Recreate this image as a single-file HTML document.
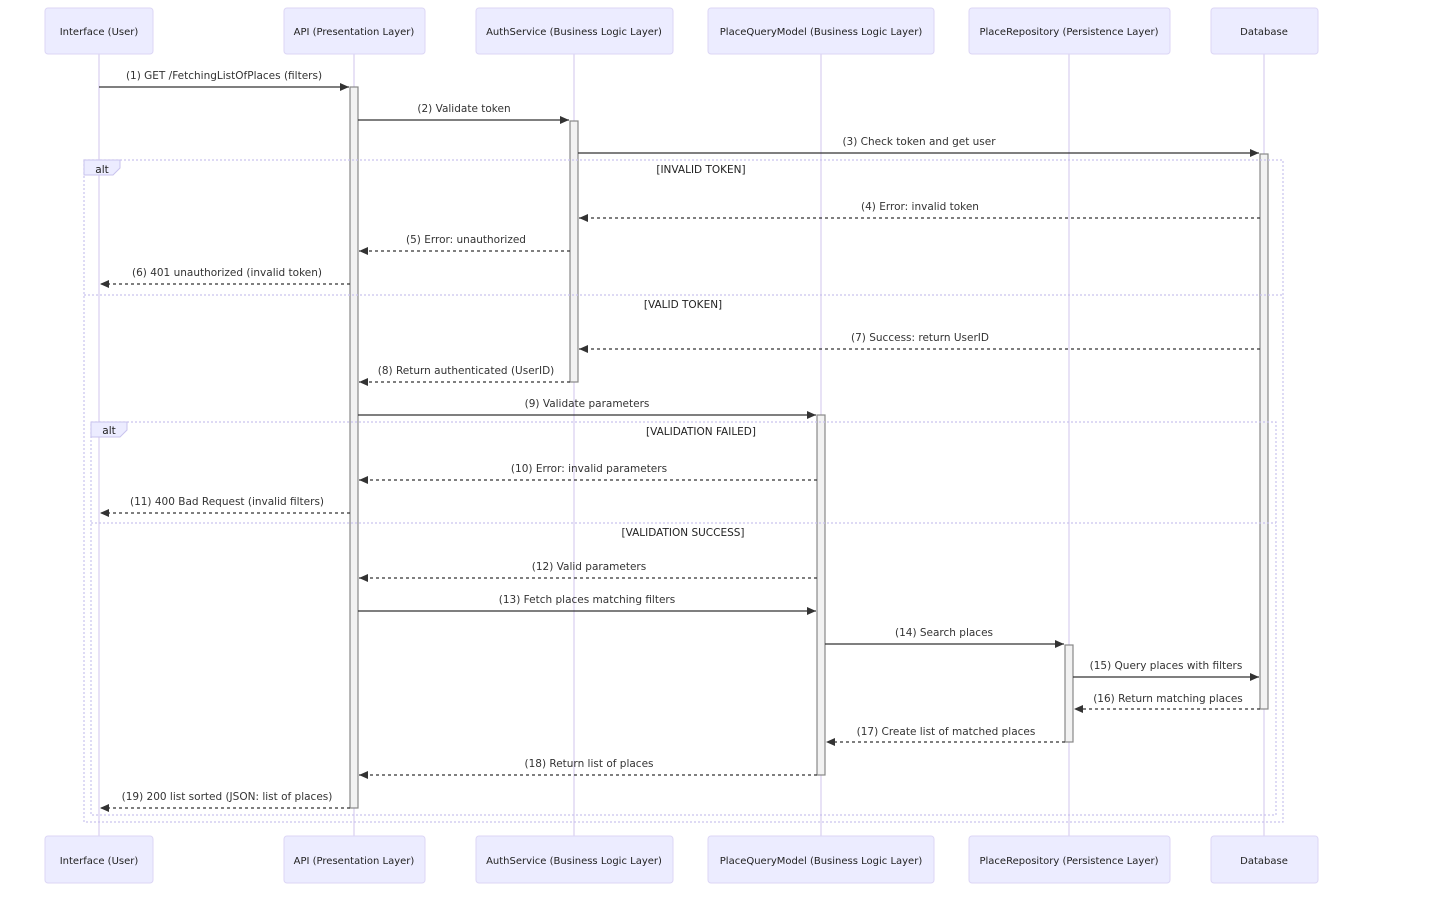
<!DOCTYPE html>
<html><head><meta charset="utf-8"><style>
html,body{margin:0;padding:0;background:#fff;}
svg{display:block;font-family:"DejaVu Sans","Liberation Sans",sans-serif;}
.actor{fill:#ECECFF;stroke:#DCD6F5;stroke-width:1;}
.at{font-size:10px;fill:#222;text-anchor:middle;}
.life{stroke:#DCD2F2;stroke-width:1.3;}
.act{fill:#F2F2F2;stroke:#888;stroke-width:1.2;}
.m{stroke:#333;stroke-width:1.2;fill:none;}
.d{stroke:#333;stroke-width:1.2;fill:none;stroke-dasharray:3,3;}
.ml{font-size:10.5px;fill:#333;text-anchor:middle;}
.alt{fill:none;stroke:#C9C3EE;stroke-width:1.2;stroke-dasharray:2,2;}
.cond{font-size:10.5px;fill:#222;text-anchor:middle;}
</style></head><body>
<svg width="1452" height="913" viewBox="0 0 1452 913" xmlns="http://www.w3.org/2000/svg">
<defs><marker id="ah" markerWidth="10" markerHeight="8" refX="9" refY="4" orient="auto" markerUnits="userSpaceOnUse"><path d="M0,0 L9,4 L0,8 z" fill="#333"/></marker></defs>
<g class="life">
<line x1="99" y1="54" x2="99" y2="836"/><line x1="354" y1="54" x2="354" y2="836"/>
<line x1="574" y1="54" x2="574" y2="836"/><line x1="821" y1="54" x2="821" y2="836"/>
<line x1="1069" y1="54" x2="1069" y2="836"/><line x1="1264" y1="54" x2="1264" y2="836"/>
</g>
<g>
<rect class="actor" x="45" y="8" width="108" height="46" rx="3"/><text class="at" x="99" y="35">Interface (User)</text>
<rect class="actor" x="284" y="8" width="141" height="46" rx="3"/><text class="at" x="354" y="35">API (Presentation Layer)</text>
<rect class="actor" x="476" y="8" width="197" height="46" rx="3"/><text class="at" x="574" y="35">AuthService (Business Logic Layer)</text>
<rect class="actor" x="708" y="8" width="226" height="46" rx="3"/><text class="at" x="821" y="35">PlaceQueryModel (Business Logic Layer)</text>
<rect class="actor" x="969" y="8" width="201" height="46" rx="3"/><text class="at" x="1069" y="35">PlaceRepository (Persistence Layer)</text>
<rect class="actor" x="1211" y="8" width="107" height="46" rx="3"/><text class="at" x="1264" y="35">Database</text>
</g>
<g>
<rect class="actor" x="45" y="836" width="108" height="47" rx="3"/><text class="at" x="99" y="864">Interface (User)</text>
<rect class="actor" x="284" y="836" width="141" height="47" rx="3"/><text class="at" x="354" y="864">API (Presentation Layer)</text>
<rect class="actor" x="476" y="836" width="197" height="47" rx="3"/><text class="at" x="574" y="864">AuthService (Business Logic Layer)</text>
<rect class="actor" x="708" y="836" width="226" height="47" rx="3"/><text class="at" x="821" y="864">PlaceQueryModel (Business Logic Layer)</text>
<rect class="actor" x="969" y="836" width="201" height="47" rx="3"/><text class="at" x="1069" y="864">PlaceRepository (Persistence Layer)</text>
<rect class="actor" x="1211" y="836" width="107" height="47" rx="3"/><text class="at" x="1264" y="864">Database</text>
</g>
<rect class="act" x="350" y="87" width="8" height="721"/>
<rect class="act" x="570" y="121" width="8" height="261"/>
<rect class="act" x="1260" y="154" width="8" height="555"/>
<rect class="act" x="817" y="415" width="8" height="360"/>
<rect class="act" x="1065" y="645" width="8" height="97"/>
<rect class="alt" x="84" y="160" width="1199" height="662"/>
<line class="alt" x1="84" y1="295" x2="1283" y2="295"/>
<path d="M84,160 H120 V168 L113,175 H84 Z" fill="#ECECFF" stroke="#C9C3EE"/>
<text x="102" y="173" font-size="10.5" fill="#222" text-anchor="middle">alt</text>
<text class="cond" x="701" y="173">[INVALID TOKEN]</text>
<text class="cond" x="683" y="308">[VALID TOKEN]</text>
<rect class="alt" x="91" y="422" width="1185" height="393"/>
<line class="alt" x1="91" y1="523" x2="1276" y2="523"/>
<path d="M91,422 H127 V430 L120,437 H91 Z" fill="#ECECFF" stroke="#C9C3EE"/>
<text x="109" y="434" font-size="10.5" fill="#222" text-anchor="middle">alt</text>
<text class="cond" x="701" y="435">[VALIDATION FAILED]</text>
<text class="cond" x="683" y="536">[VALIDATION SUCCESS]</text>
<line class="m" x1="99" y1="87" x2="349" y2="87" marker-end="url(#ah)"/><text class="ml" x="224" y="79">(1) GET /FetchingListOfPlaces (filters)</text>
<line class="m" x1="358" y1="120" x2="569" y2="120" marker-end="url(#ah)"/><text class="ml" x="464" y="112">(2) Validate token</text>
<line class="m" x1="578" y1="153" x2="1259" y2="153" marker-end="url(#ah)"/><text class="ml" x="919" y="145">(3) Check token and get user</text>
<line class="d" x1="1260" y1="218" x2="579" y2="218" marker-end="url(#ah)"/><text class="ml" x="920" y="210">(4) Error: invalid token</text>
<line class="d" x1="570" y1="251" x2="359" y2="251" marker-end="url(#ah)"/><text class="ml" x="466" y="243">(5) Error: unauthorized</text>
<line class="d" x1="350" y1="284" x2="100" y2="284" marker-end="url(#ah)"/><text class="ml" x="227" y="276">(6) 401 unauthorized (invalid token)</text>
<line class="d" x1="1260" y1="349" x2="579" y2="349" marker-end="url(#ah)"/><text class="ml" x="920" y="341">(7) Success: return UserID</text>
<line class="d" x1="570" y1="382" x2="359" y2="382" marker-end="url(#ah)"/><text class="ml" x="466" y="374">(8) Return authenticated (UserID)</text>
<line class="m" x1="358" y1="415" x2="816" y2="415" marker-end="url(#ah)"/><text class="ml" x="587" y="407">(9) Validate parameters</text>
<line class="d" x1="817" y1="480" x2="359" y2="480" marker-end="url(#ah)"/><text class="ml" x="589" y="472">(10) Error: invalid parameters</text>
<line class="d" x1="350" y1="513" x2="100" y2="513" marker-end="url(#ah)"/><text class="ml" x="227" y="505">(11) 400 Bad Request (invalid filters)</text>
<line class="d" x1="817" y1="578" x2="359" y2="578" marker-end="url(#ah)"/><text class="ml" x="589" y="570">(12) Valid parameters</text>
<line class="m" x1="358" y1="611" x2="816" y2="611" marker-end="url(#ah)"/><text class="ml" x="587" y="603">(13) Fetch places matching filters</text>
<line class="m" x1="825" y1="644" x2="1064" y2="644" marker-end="url(#ah)"/><text class="ml" x="944" y="636">(14) Search places</text>
<line class="m" x1="1073" y1="677" x2="1259" y2="677" marker-end="url(#ah)"/><text class="ml" x="1166" y="669">(15) Query places with filters</text>
<line class="d" x1="1260" y1="709" x2="1074" y2="709" marker-end="url(#ah)"/><text class="ml" x="1168" y="702">(16) Return matching places</text>
<line class="d" x1="1065" y1="742" x2="826" y2="742" marker-end="url(#ah)"/><text class="ml" x="946" y="735">(17) Create list of matched places</text>
<line class="d" x1="817" y1="775" x2="359" y2="775" marker-end="url(#ah)"/><text class="ml" x="589" y="767">(18) Return list of places</text>
<line class="d" x1="350" y1="808" x2="100" y2="808" marker-end="url(#ah)"/><text class="ml" x="227" y="800">(19) 200 list sorted (JSON: list of places)</text>
</svg>
</body></html>
